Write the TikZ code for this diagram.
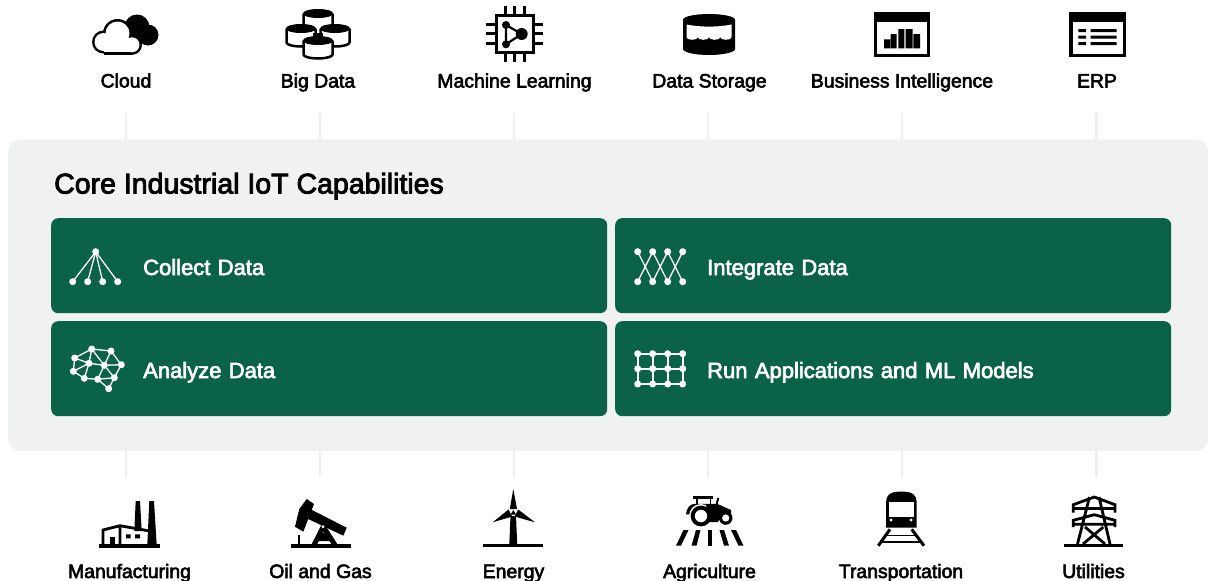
\documentclass[tikz,border=0pt]{standalone}
\usepackage{fontspec}
\setmainfont{Liberation Sans}
\newfontfamily\medfont[FakeBold=3]{Liberation Sans}
\definecolor{panelgray}{HTML}{F0F2F1}
\definecolor{tickgray}{HTML}{EEF0EF}
\definecolor{cardgreen}{HTML}{0A6249}
\tikzset{
  panelbox/.style={draw=none,fill=panelgray,rounded corners=12pt,inner sep=0pt,anchor=north west,minimum width=1200pt,minimum height=311.5pt},
  cardbox/.style={draw=none,fill=cardgreen,rounded corners=7pt,anchor=north west,minimum width=556pt,minimum height=95pt,text width=556pt,inner xsep=0pt,inner ysep=0pt,align=left,text=white,text height=18.6pt,text depth=0pt,font=\medfont\fontsize{22}{24}\selectfont},
  lab/.style={inner sep=0pt,anchor=base,font=\medfont\fontsize{19.4}{22}\selectfont,text=black},
  titlelab/.style={inner sep=0pt,anchor=base west,font=\medfont\fontsize{28.5}{30}\selectfont,text=black},
  tickline/.style={draw=tickgray,line width=2.5pt},
  wl/.style={draw=white,line width=1.3pt},
  wb/.style={draw=white,line width=2.2pt}
}
\newcommand{\wdot}[2]{\fill[white] (#1,#2) circle (3.5);}
\newcommand{\bigcyl}[3]{% cx, top y, height
  \fill[white] (#1-14.5,#2+4) rectangle (#1+14.5,#2+#3);
  \fill[white] (#1,#2+#3) ellipse (14.5 and 4);
  \draw[black,line width=2.5pt] (#1-14.5,#2+4) -- (#1-14.5,#2+#3) arc[start angle=180,end angle=0,x radius=14.5,y radius=4] -- (#1+14.5,#2+4);
  \draw[black,fill=black,line width=1pt] (#1,#2+4) ellipse (14.5 and 4);
}
\begin{document}
\begin{tikzpicture}[x=1pt,y=-1pt]
\useasboundingbox (0,0) rectangle (1208,581);
\foreach \n/\xx in {1/126,2/320,3/514,4/708,5/902,6/1096.5}{
  \coordinate (t\n) at (\xx,113);
  \coordinate (b\n) at (\xx,476.5);
}
\node[panelbox] (panel) at (8,139.2) {};
\foreach \n in {1,...,6}{
  \draw[tickline] (t\n) -- (t\n |- panel.north);
  \draw[tickline] (b\n) -- (b\n |- panel.south);
}
\node[titlelab] (title) at (54,193.5) {Core Industrial IoT Capabilities};
\node[cardbox] (c1) at (51,218) {\hspace*{92pt}Collect Data};
\node[cardbox] (c2) at (615,218) {\hspace*{92pt}Integrate Data};
\node[cardbox] (c3) at (51,321) {\hspace*{92pt}Analyze Data};
\node[cardbox] (c4) at (615,321) {\hspace*{92pt}Run Applications and ML Models};
\node[lab] (l1) at (126,87.5) {Cloud};
\node[lab] (l2) at (318,87.5) {Big Data};
\node[lab] (l3) at (514.5,87.5) {Machine Learning};
\node[lab] (l4) at (709.5,87.5) {Data Storage};
\node[lab] (l5) at (902,87.5) {Business Intelligence};
\node[lab] (l6) at (1097,87.5) {ERP};
\node[lab] (l7) at (129.5,578) {Manufacturing};
\node[lab] (l8) at (320.5,578) {Oil and Gas};
\node[lab] (l9) at (513.5,578) {Energy};
\node[lab] (l10) at (709.5,578) {Agriculture};
\node[lab] (l11) at (901,578) {Transportation};
\node[lab] (l12) at (1093.5,578) {Utilities};
% Cloud
\fill[black] (137,27) circle (12.5) (148,35) circle (10.5) (133,46) circle (8);
\fill[black] (103.5,42) circle (11.5) (117.5,33.5) circle (14.5) (132,44.8) circle (10);
\fill[black] (103.5,43) rectangle (132,54.8);
\fill[white] (103.5,42) circle (9) (117.5,33.5) circle (12) (132,44.8) circle (7.5);
\fill[white] (103.5,43) rectangle (132,52.3);
% Big data
\bigcyl{318}{9.5}{22}
\bigcyl{301}{24.5}{18}
\bigcyl{335}{24.5}{18}
\fill[black] (313,33) rectangle (323,36);
\bigcyl{318}{36.5}{18}
% Chip
\draw[black,line width=3pt,fill=white] (496,15.5) rectangle (533.5,52.5);
\draw[black,line width=3pt] (505,6) -- (505,15) (514.3,6) -- (514.3,15) (524,6) -- (524,15)
  (505,53) -- (505,62) (514.3,53) -- (514.3,62) (524,53) -- (524,62)
  (486,24) -- (495,24) (486,33.5) -- (495,33.5) (486,43.3) -- (495,43.3)
  (534,24) -- (543,24) (534,33.5) -- (543,33.5) (534,43.3) -- (543,43.3);
\draw[black,line width=2.2pt] (506,25) -- (521.7,34) -- (506,44.3) -- cycle;
\fill[black] (506,25) circle (4) (506,44.3) circle (4) (521.7,34) circle (6);
% Data storage
\fill[black] (683,19.7) arc[start angle=180,end angle=360,x radius=26,y radius=5.7] -- (735,49) arc[start angle=0,end angle=180,x radius=26,y radius=6] -- cycle;
\fill[white] (686.5,24.5) .. controls (700,27.3) and (718,27.3) .. (731.5,24.5) -- (731.5,37.2)
  arc[start angle=0,end angle=180,x radius=5.625,y radius=2.6]
  arc[start angle=0,end angle=180,x radius=5.625,y radius=2.6]
  arc[start angle=0,end angle=180,x radius=5.625,y radius=2.6]
  arc[start angle=0,end angle=180,x radius=5.625,y radius=2.6] -- cycle;
% BI
\fill[black] (874,11.7) rectangle (930,57.3);
\fill[white] (877.3,21.7) rectangle (926.7,54);
\fill[black] (884,39.3) rectangle (890,48.3) (890.7,34) rectangle (896.7,48.3) (898.3,29) rectangle (904.3,48.3) (905.7,29) rectangle (912.7,48.3) (913.3,34) rectangle (920,48.3);
% ERP
\fill[black] (1069.3,11.7) rectangle (1126,57.3);
\fill[white] (1072.6,21.7) rectangle (1122.7,54);
\fill[black] (1078.3,29) rectangle (1086,32) (1078.3,35.5) rectangle (1086,38.5) (1078.3,42) rectangle (1086,45)
 (1090.7,29) rectangle (1116.7,32) (1090.7,35.5) rectangle (1116.7,38.5) (1090.7,42) rectangle (1116.7,45);
% Collect icon
\foreach \xx in {72.7,87.7,102.7,117.7}{\draw[wl] (95.7,251.7) -- (\xx,281.7); \wdot{\xx}{281.7}}
\wdot{95.7}{251.7}
% Integrate icon
\draw[wl] (637.7,251.7) -- (652.7,281.7) (652.7,251.7) -- (637.7,281.7) (652.7,251.7) -- (667.7,281.7) (667.7,251.7) -- (652.7,281.7) (667.7,251.7) -- (682.7,281.7) (682.7,251.7) -- (667.7,281.7);
\foreach \xx in {637.7,652.7,667.7,682.7}{\wdot{\xx}{251.7}\wdot{\xx}{281.7}}
% Analyze icon
\coordinate (a1) at (91.7,349);
\coordinate (a2) at (111,351);
\coordinate (a3) at (74.7,358);
\coordinate (a4) at (89,363.3);
\coordinate (a5) at (104.3,365.3);
\coordinate (a6) at (121.3,364.7);
\coordinate (a7) at (73.3,371.3);
\coordinate (a8) at (84.3,378.3);
\coordinate (a9) at (97.7,379.3);
\coordinate (a10) at (114.3,377.7);
\coordinate (a11) at (108.7,388.7);
\draw[wl] (a1) -- (a2) (a1) -- (a3) (a1) -- (a4) (a1) -- (a5) (a2) -- (a5) (a2) -- (a6) (a3) -- (a4) (a3) -- (a7) (a4) -- (a7) (a4) -- (a5) (a4) -- (a8) (a7) -- (a8) (a8) -- (a9) (a5) -- (a9) (a5) -- (a10) (a5) -- (a6) (a6) -- (a10) (a9) -- (a10) (a9) -- (a11) (a10) -- (a11);
\foreach \n in {1,...,11}{\fill[white] (a\n) circle (3.5);}
% Grid icon
\foreach \yy in {353.7,368.7,384}{\draw[wb] (637.7,\yy) -- (682.7,\yy);}
\foreach \xx in {637.7,652.7,667.7,682.7}{\draw[wb] (\xx,353.7) -- (\xx,384);
  \wdot{\xx}{353.7}\wdot{\xx}{368.7}\wdot{\xx}{384}}
% Manufacturing
\fill[black] (99.3,544.3) rectangle (160,547.7);
\fill[black] (135.7,501) -- (140,501) -- (141.7,531) -- (134.3,531) -- cycle;
\fill[black] (149.3,501) -- (154,501) -- (156.7,545) -- (147.3,545) -- cycle;
\draw[black,line width=2.8pt] (103,545) -- (103,530) -- (120,525.7) -- (148,530.7) (120,525.7) -- (120,545);
\fill[black] (110,537) rectangle (115,545);
\fill[black] (126,534.3) rectangle (130.7,538.3) (135,534.3) rectangle (140,538.3);
% Oil and gas
\fill[black] (291,544.3) rectangle (351,547.7);
\fill[black] (310,509) -- (346.7,527.7) -- (343.3,535.7) -- (306.7,518.3) -- cycle;
\fill[black] (306.7,499) -- (314,504) -- (303.3,531.7) -- (295,526.7) -- (299.3,509) -- cycle;
\draw[black,line width=5pt] (314,545) -- (323.3,526.7) -- (335,545);
\fill[black] (318,533) -- (328,533) -- (331,541) -- (316,541) -- cycle;
\fill[white] (323,526.7) circle (1.6);
\fill[black] (297.8,535) rectangle (300,545);
% Energy
\fill[black] (483.3,543.7) rectangle (543.3,547.3);
\fill[black] (510.5,516) -- (516,516) -- (517.2,544) -- (509.3,544) -- cycle;
\fill[black] (513.3,489) -- (517,509) -- (509.8,509) -- cycle;
\fill[black] (492.7,522.3) -- (508.5,509.5) -- (512.2,516.5) -- cycle;
\fill[black] (535,522.3) -- (518.2,509.5) -- (514.5,516.5) -- cycle;
\fill[black] (513.3,510) -- (516,514.5) -- (510.6,514.5) -- cycle;
% Agriculture
\fill[black] (693.3,496) rectangle (713.3,498.7);
\draw[black,line width=1.8pt] (697,498) -- (697,505) (710.5,498) -- (710.5,505);
\draw[black,line width=2pt] (718.3,498) .. controls (717,500) and (717.3,503) .. (716.7,506);
\fill[black] (686,514.5) .. controls (686.5,508) and (690,503.8) .. (695,503.8) -- (717,503.8) -- (731,510) -- (731,515.5) -- (721,515.5) -- (718,522) -- (707,522) -- (700,514) -- cycle;
\begin{scope}
\clip (680,500) rectangle (706,530);
\fill[white] (701,516) circle (12);
\end{scope}
\fill[black] (701,516) circle (10.4);
\fill[white] (701,516) circle (6.2);
\fill[black] (725.7,518) circle (6.8);
\fill[white] (725.7,518) circle (3.6);
\fill[black] (683.5,530) -- (688.5,530) -- (681,545.7) -- (676,545.7) -- cycle;
\fill[black] (696,530) -- (700.5,530) -- (696.5,545.7) -- (691.5,545.7) -- cycle;
\fill[black] (707.8,530) rectangle (712.2,545.7);
\fill[black] (719.5,530) -- (724,530) -- (729,545.7) -- (724,545.7) -- cycle;
\fill[black] (731,530) -- (736,530) -- (743.5,545.7) -- (738.5,545.7) -- cycle;
% Transportation
\draw[black,line width=3pt] (890,529.3) -- (878.3,545.7) (911.7,529.3) -- (924,545.7);
\draw[black,line width=1.6pt] (885.5,535.5) -- (916.5,535.5) (881,541.7) -- (921,541.7);
\fill[black] (886,527.7) -- (886,502) .. controls (886,495) and (891,491.7) .. (898,491.7) -- (904.7,491.7) .. controls (911.7,491.7) and (916.7,495) .. (916.7,502) -- (916.7,527.7) -- cycle;
\fill[white] (888.5,502.3) rectangle (914,516.7);
\fill[white] (891,520) circle (1.7) (911,520) circle (1.7);
% Utilities
\fill[black] (1064,543.7) rectangle (1123,547.2);
\draw[black,line width=2.8pt] (1073.3,512.7) -- (1073.3,504.7) -- (1094.3,497) -- (1115,504.7) -- (1115,512.7)
  (1073.3,508.5) -- (1115,508.5)
  (1073.3,527) -- (1073.3,520.3) -- (1094.3,514.7) -- (1115,520.3) -- (1115,527)
  (1073.3,524.3) -- (1115,524.3)
  (1089.5,497) -- (1077.5,544) (1099,497) -- (1110,544)
  (1085,527) -- (1105,544) (1103.3,527) -- (1083,544);
\end{tikzpicture}
\end{document}
